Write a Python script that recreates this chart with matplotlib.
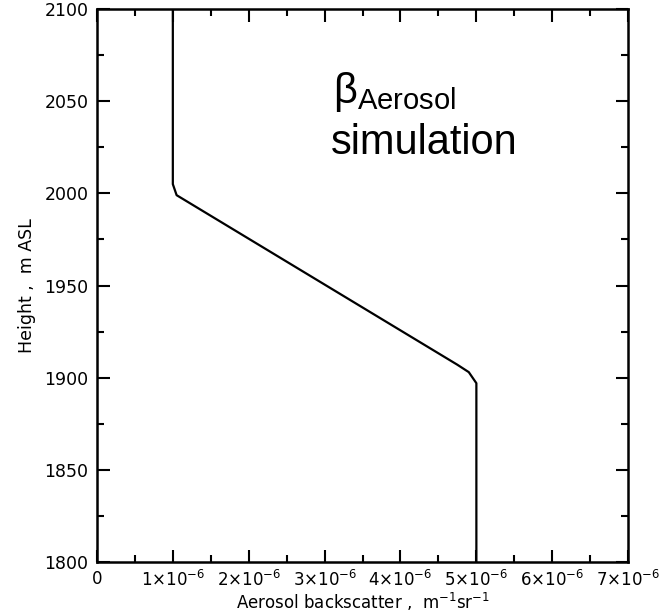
import numpy as np
import matplotlib
matplotlib.use('Agg')
import matplotlib.pyplot as plt
from matplotlib.ticker import MultipleLocator

# profile
backscatter = [1.0e-6, 1.0e-6, 1.05e-6, 4.75e-6, 4.9e-6, 5.0e-6, 5.0e-6]
height = [2100, 2005, 1999, 1907, 1903, 1897, 1800]

xticks = [0, 1e-6, 2e-6, 3e-6, 4e-6, 5e-6, 6e-6, 7e-6]
xticklabels = ['0'] + ['%d×10$^{-6}$' % i for i in range(1, 8)]
yticks = [1800, 1850, 1900, 1950, 2000, 2050, 2100]

plt.rcParams['mathtext.fontset'] = 'dejavusans'

fig = plt.figure(figsize=(6.64, 6.13), dpi=100)
ax = fig.add_axes([0.146, 0.0832, 0.8, 0.9021])
ax.plot(backscatter, height, 'k', lw=1.6)

ax.set_xlim(0, 7e-6)
ax.set_ylim(1800, 2100)
ax.set_xticks(xticks)
ax.set_xticklabels(xticklabels)
ax.set_yticks(yticks)
ax.xaxis.set_minor_locator(MultipleLocator(0.5e-6))
ax.yaxis.set_minor_locator(MultipleLocator(25))
ax.tick_params(which='both', direction='in', top=True, right=True, width=1.5, labelsize=12.5)
ax.tick_params(which='major', length=9)
ax.tick_params(which='minor', length=5)
ax.tick_params(axis='x', pad=6, labelsize=12)
ax.tick_params(axis='y', pad=6)
for s in ax.spines.values():
    s.set_linewidth(1.8)

ax.set_xlabel('Aerosol backscatter ,  m$^{-1}$sr$^{-1}$', fontsize=12, labelpad=0)
ax.set_ylabel('Height ,  m ASL', fontsize=12.5, labelpad=6)

ax.text(0.445, 0.83, r'$\mathregular{\beta_{Aerosol}}$', transform=ax.transAxes,
        fontsize=30, family='Liberation Sans')
ax.text(0.44, 0.738, 'simulation', transform=ax.transAxes,
        fontsize=30, family='Liberation Sans')

fig.savefig('out.png', dpi=100)
